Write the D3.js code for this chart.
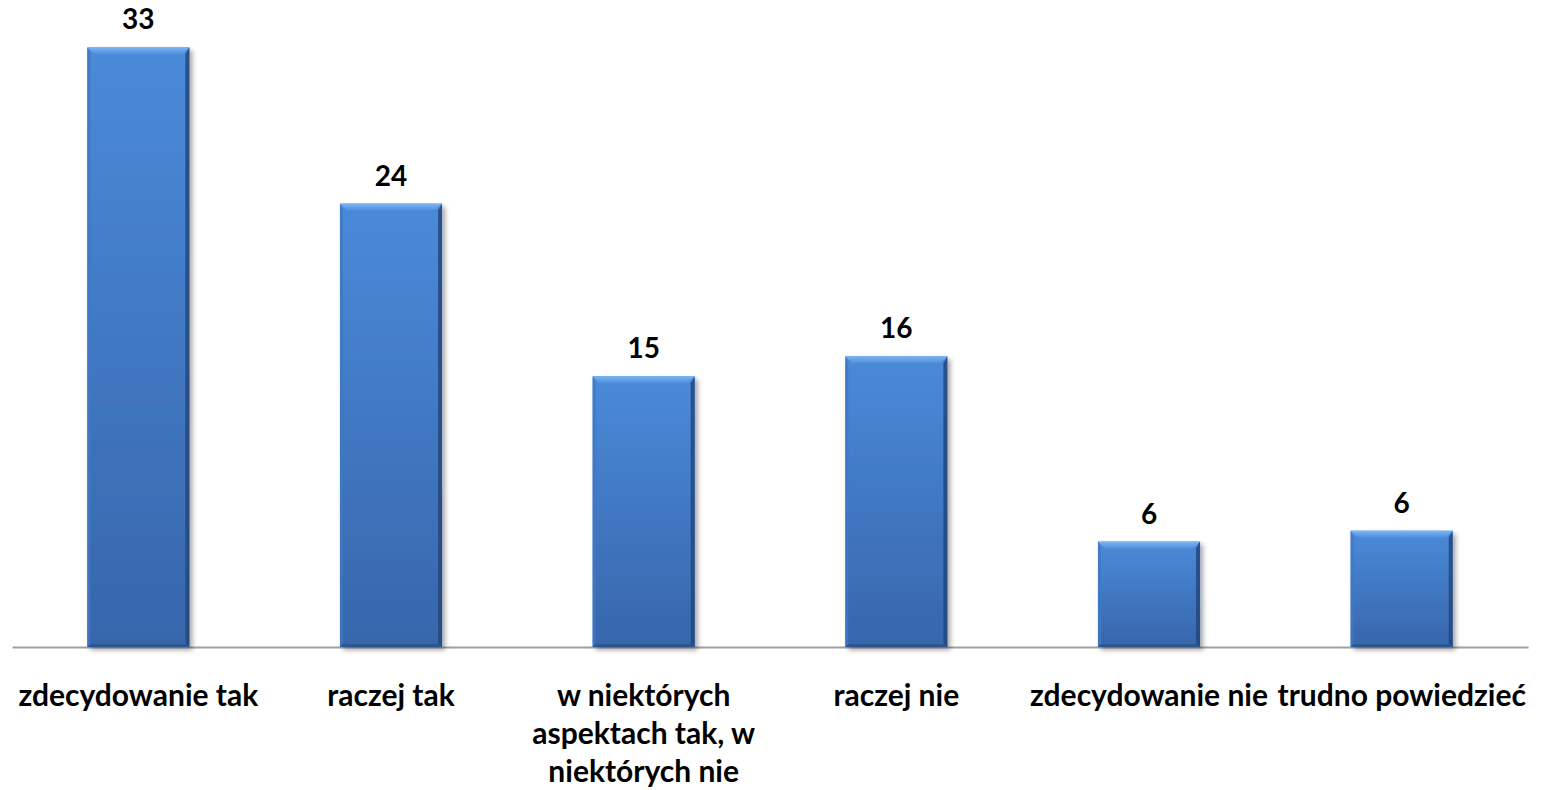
<!DOCTYPE html>
<html lang="pl">
<head>
<meta charset="utf-8">
<title>Odpowiedzi</title>
<script src="https://cdn.jsdelivr.net/npm/d3@7/dist/d3.min.js"></script>
<style>
  html, body { margin: 0; padding: 0; background: #ffffff; }
  svg { display: block; }
  text { font-family: Lato, "Open Sans", sans-serif; font-weight: 700; fill: #000; }
</style>
</head>
<body>
<div id="chart"></div>
<script>
// Answer categories (line breaks mark where a label wraps)
const categories = [
  "zdecydowanie tak",
  "raczej tak",
  "w niektórych\naspektach tak, w\nniektórych nie",
  "raczej nie",
  "zdecydowanie nie",
  "trudno powiedzieć"
];
// Percent of answers
const values = [33, 24.4, 14.9, 16.0, 5.8, 6.4];
// Value axis extent
const yDomain = [0, 35];

const W = 1541, H = 790;
const baseY = 647;

const svg = d3.select("#chart").append("svg")
  .attr("width", W).attr("height", H);

const defs = svg.append("defs");

const face = defs.append("linearGradient").attr("id", "face")
  .attr("x1", 0).attr("y1", 0).attr("x2", 0).attr("y2", 1);
face.append("stop").attr("offset", "0%").attr("stop-color", "#4a8ad9");
face.append("stop").attr("offset", "100%").attr("stop-color", "#3766ab");

const topG = defs.append("linearGradient").attr("id", "bevelTop")
  .attr("x1", 0).attr("y1", 0).attr("x2", 0).attr("y2", 1);
topG.append("stop").attr("offset", "0%").attr("stop-color", "#7db4f5");
topG.append("stop").attr("offset", "100%").attr("stop-color", "#4f8edb");

const sh = defs.append("filter").attr("id", "shadow")
  .attr("x", "-20%").attr("y", "-5%").attr("width", "140%").attr("height", "115%");
sh.append("feDropShadow").attr("dx", 3).attr("dy", 3).attr("stdDeviation", 2.5)
  .attr("flood-color", "#000").attr("flood-opacity", 0.35);

const x = d3.scaleBand()
  .domain(categories)
  .range([12, 1528])
  .paddingInner(0.596)
  .paddingOuter(0.298);

const y = d3.scaleLinear().domain(yDomain).range([baseY, 11]);

// Category axis line
const xAxis = d3.axisBottom(x).tickSize(0).tickFormat("");
const axisG = svg.append("g").attr("transform", `translate(0,${baseY})`).call(xAxis);
axisG.select(".domain").attr("stroke", "#a0a0a0").attr("stroke-width", 2);

const data = categories.map((c, i) => ({ c, v: values[i] }));
const bev = 7;

const bars = svg.append("g").selectAll("g.bar").data(data).join("g").attr("class", "bar");

bars.each(function(d) {
  const g = d3.select(this);
  const x0 = x(d.c), x1 = x0 + x.bandwidth();
  const y0 = y(d.v), y1 = y(0);
  g.append("rect")
    .attr("x", x0).attr("y", y0)
    .attr("width", x1 - x0).attr("height", y1 - y0)
    .attr("fill", "url(#face)")
    .attr("filter", "url(#shadow)");
  // left bevel
  g.append("path")
    .attr("d", `M${x0},${y0}L${x0 + 3},${y0 + bev}L${x0 + 3},${y1 - 3}L${x0},${y1}Z`)
    .attr("fill", "#3f78c4").attr("opacity", 0.8);
  // right bevel
  g.append("path")
    .attr("d", `M${x1},${y0}L${x1 - 4},${y0 + bev}L${x1 - 4},${y1 - 3}L${x1},${y1}Z`)
    .attr("fill", "#24477e").attr("opacity", 0.85);
  // bottom bevel
  g.append("path")
    .attr("d", `M${x0},${y1}L${x0 + 3},${y1 - 3}L${x1 - 4},${y1 - 3}L${x1},${y1}Z`)
    .attr("fill", "#2a518e").attr("opacity", 0.8);
  // top bevel
  g.append("path")
    .attr("d", `M${x0},${y0}L${x1},${y0}L${x1 - bev},${y0 + bev}L${x0 + bev},${y0 + bev}Z`)
    .attr("fill", "url(#bevelTop)");
});

// Value labels
svg.append("g").selectAll("text").data(data).join("text")
  .attr("x", d => x(d.c) + x.bandwidth() / 2)
  .attr("y", d => y(d.v) - 18)
  .attr("text-anchor", "middle")
  .style("font-size", "28px")
  .text(d => d3.format(".0f")(d.v));

// Category labels
const catG = svg.append("g").selectAll("text").data(categories).join("text")
  .attr("x", d => x(d) + x.bandwidth() / 2)
  .attr("y", 706)
  .attr("text-anchor", "middle")
  .style("font-size", "30px");
catG.selectAll("tspan").data(d => d.split("\n")).join("tspan")
  .attr("x", function() { return d3.select(this.parentNode).attr("x"); })
  .attr("dy", (d, i) => i === 0 ? 0 : 38)
  .text(d => d);
</script>
</body>
</html>
